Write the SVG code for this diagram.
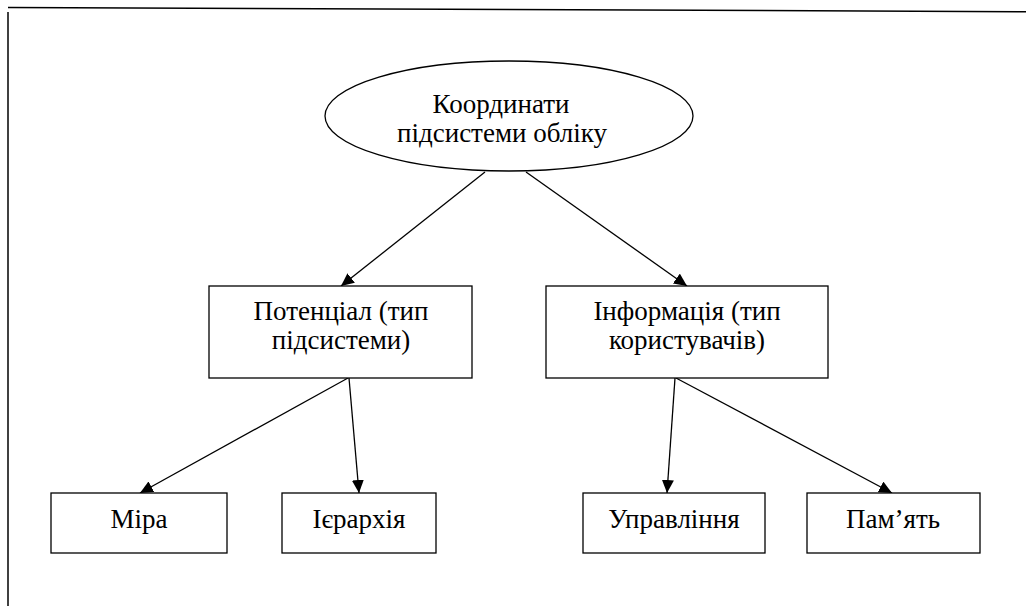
<svg xmlns="http://www.w3.org/2000/svg" width="1026" height="606" viewBox="0 0 1026 606">
<style>
.box{fill:#fff;stroke:#000;stroke-width:1.3}
.lbl{font-family:"Liberation Serif","Times New Roman","DejaVu Serif",serif;font-size:27px;fill:#000;text-anchor:middle}
.con{stroke:#000;stroke-width:1.3;fill:none;marker-end:url(#ah)}
.frame{stroke:#000;stroke-width:1.5;fill:none}
</style>
<defs>
<marker id="ah" markerUnits="userSpaceOnUse" markerWidth="14" markerHeight="12" refX="13" refY="6" orient="auto">
<path d="M0,0 L13,6 L0,12 z" fill="#000"/>
</marker>
</defs>
<g id="frame">
<line class="frame" x1="8" y1="7.5" x2="1026" y2="11.7"/>
<line class="frame" x1="8" y1="12" x2="8" y2="606"/>
</g>
<g id="connectors">
<line class="con" x1="485" y1="172" x2="341" y2="286"/>
<line class="con" x1="526" y1="172" x2="687" y2="286"/>
<line class="con" x1="348" y1="378" x2="140" y2="493"/>
<line class="con" x1="349" y1="378" x2="359" y2="493"/>
<line class="con" x1="675" y1="378" x2="667" y2="493"/>
<line class="con" x1="676" y1="378" x2="892" y2="493"/>
</g>
<g id="root">
<ellipse class="box" cx="509" cy="116" rx="184" ry="55"/>
<text class="lbl" x="501" y="113">Координати</text>
<text class="lbl" x="502" y="142">підсистеми обліку</text>
</g>
<g id="potential">
<rect class="box" x="209" y="286" width="263" height="92"/>
<text class="lbl" x="341" y="320">Потенціал (тип</text>
<text class="lbl" x="341" y="349">підсистеми)</text>
</g>
<g id="information">
<rect class="box" x="546" y="286" width="282" height="92"/>
<text class="lbl" x="687" y="320">Інформація (тип</text>
<text class="lbl" x="687" y="349">користувачів)</text>
</g>
<g id="mira">
<rect class="box" x="51" y="493" width="176" height="60"/>
<text class="lbl" x="139" y="528">Міра</text>
</g>
<g id="ierarkhiia">
<rect class="box" x="282" y="493" width="154" height="60"/>
<text class="lbl" x="359" y="528">Ієрархія</text>
</g>
<g id="upravlinnia">
<rect class="box" x="583" y="493" width="182" height="60"/>
<text class="lbl" x="674" y="528">Управління</text>
</g>
<g id="pamiat">
<rect class="box" x="807" y="493" width="173" height="60"/>
<text class="lbl" x="893" y="528">Пам’ять</text>
</g>
</svg>
